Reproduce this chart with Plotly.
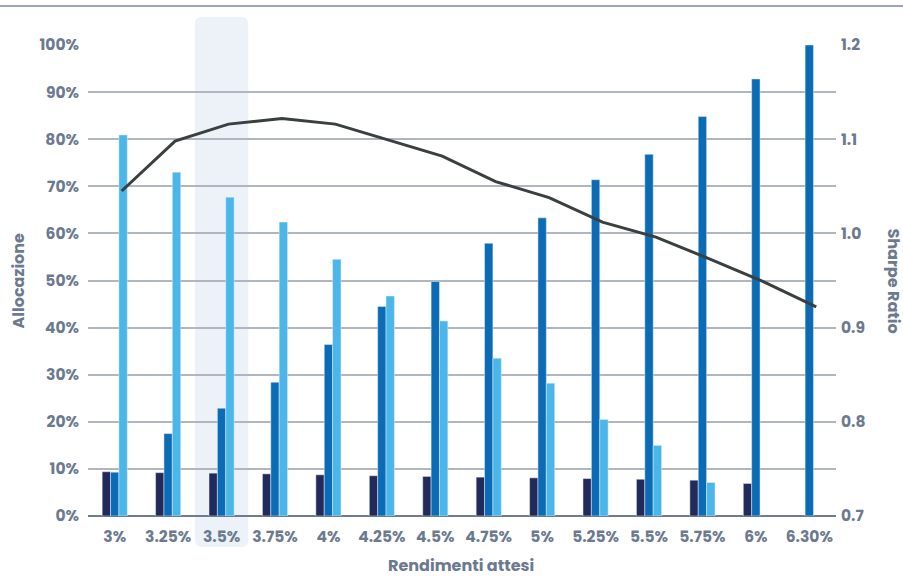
import plotly.graph_objects as go

categories = ["3%", "3.25%", "3.5%", "3.75%", "4%", "4.25%", "4.5%", "4.75%",
              "5%", "5.25%", "5.5%", "5.75%", "6%", "6.30%"]
navy_vals = [9.4, 9.2, 9.1, 8.95, 8.75, 8.55, 8.4, 8.25, 8.1, 7.95, 7.8, 7.6, 6.9, None]
blue_vals = [9.3, 17.5, 22.9, 28.4, 36.4, 44.5, 49.8, 57.9, 63.3, 71.4, 76.8, 84.8, 92.8, 100]
light_vals = [80.9, 73.0, 67.7, 62.4, 54.5, 46.7, 41.4, 33.5, 28.2, 20.5, 15.0, 7.1, None, None]
sharpe_vals = [1.045, 1.098, 1.116, 1.122, 1.116, 1.099, 1.082, 1.055, 1.038,
               1.012, 0.996, 0.973, 0.949, 0.922]

NAVY = "#222a5b"
BLUE = "#0b6cb5"
LIGHT = "#4ab6e9"
LINE = "#3a3f3f"
TXT = "#6b7a8f"
GRID = "#b0b6c0"
FONT = "Poppins, Open Sans, sans-serif"
TICK = 15.5
TITLE = 16

fig = go.Figure()
fig.add_bar(x=categories, y=navy_vals, marker_color=NAVY, name="A")
fig.add_bar(x=categories, y=blue_vals, marker_color=BLUE, name="B")
fig.add_bar(x=categories, y=light_vals, marker_color=LIGHT, name="C")
fig.add_scatter(x=categories, y=sharpe_vals, mode="lines", xaxis="x2", yaxis="y2",
                line=dict(color=LINE, width=3), name="Sharpe")

W, H = 903, 576
ml, mr, mt, mb = 88, 67, 45, 60
pw, ph = W - ml - mr, H - mt - mb

def px_x(p):
    return (p - ml) / pw

def px_y(p):
    return (H - mb - p) / ph

# highlighted category band (3.5%) with rounded corners
i = categories.index("3.5%")
x0, x1 = i / len(categories), (i + 1) / len(categories)
y0, y1 = px_y(547), px_y(17)
rx, ry = 7 / pw, 7 / ph
path = (f"M {x0+rx},{y1} L {x1-rx},{y1} Q {x1},{y1} {x1},{y1-ry} "
        f"L {x1},{y0+ry} Q {x1},{y0} {x1-rx},{y0} L {x0+rx},{y0} "
        f"Q {x0},{y0} {x0},{y0+ry} L {x0},{y1-ry} Q {x0},{y1} {x0+rx},{y1} Z")

tf = dict(family=FONT, size=TICK, color=TXT, weight="bold")

fig.update_layout(
    width=W, height=H,
    margin=dict(l=ml, r=mr, t=mt, b=mb),
    paper_bgcolor="white", plot_bgcolor="rgba(0,0,0,0)",
    barmode="group", bargap=0.53, bargroupgap=0,
    showlegend=False,
    font=dict(family=FONT, color=TXT, size=14),
    xaxis=dict(type="category", range=[-0.5, 13.5], showgrid=False, zeroline=False,
               showline=False, ticks="", ticklabelstandoff=9, tickfont=tf),
    xaxis2=dict(type="category", overlaying="x", range=[-0.63, 13.37], visible=False),
    yaxis=dict(range=[0, 100], dtick=10, ticksuffix="%", showgrid=True,
               gridcolor=GRID, gridwidth=1.5, zeroline=True, zerolinecolor="#6f7c90",
               zerolinewidth=1.5, ticklabelstandoff=8, tickfont=tf),
    yaxis2=dict(range=[0.7, 1.2], dtick=0.1, tickformat=".1f", overlaying="y",
                side="right", showgrid=False, zeroline=False, ticklabelstandoff=4,
                tickfont=tf),
    shapes=[
        dict(type="path", xref="paper", yref="paper", path=path,
             fillcolor="#edf2f9", line=dict(width=0), layer="below"),
        dict(type="line", xref="paper", yref="paper", x0=px_x(0), x1=px_x(903),
             y0=px_y(6), y1=px_y(6), line=dict(color="#7b879a", width=1.5)),
    ],
    annotations=[
        dict(text="<b>Allocazione</b>", xref="paper", yref="paper", x=px_x(18), y=0.5,
             textangle=-90, showarrow=False, font=dict(size=TITLE, color=TXT, family=FONT),
             xanchor="center", yanchor="middle"),
        dict(text="<b>Sharpe Ratio</b>", xref="paper", yref="paper", x=px_x(893), y=0.5,
             textangle=90, showarrow=False, font=dict(size=TITLE, color=TXT, family=FONT),
             xanchor="center", yanchor="middle"),
        dict(text="<b>Rendimenti attesi</b>", xref="paper", yref="paper", x=px_x(461),
             y=px_y(565), showarrow=False, font=dict(size=TITLE, color=TXT, family=FONT),
             xanchor="center", yanchor="middle"),
    ],
)

fig.write_html("out.html", config={"displayModeBar": False},
               post_script="document.body.style.margin='0';"
                           "document.body.style.overflow='hidden';")
